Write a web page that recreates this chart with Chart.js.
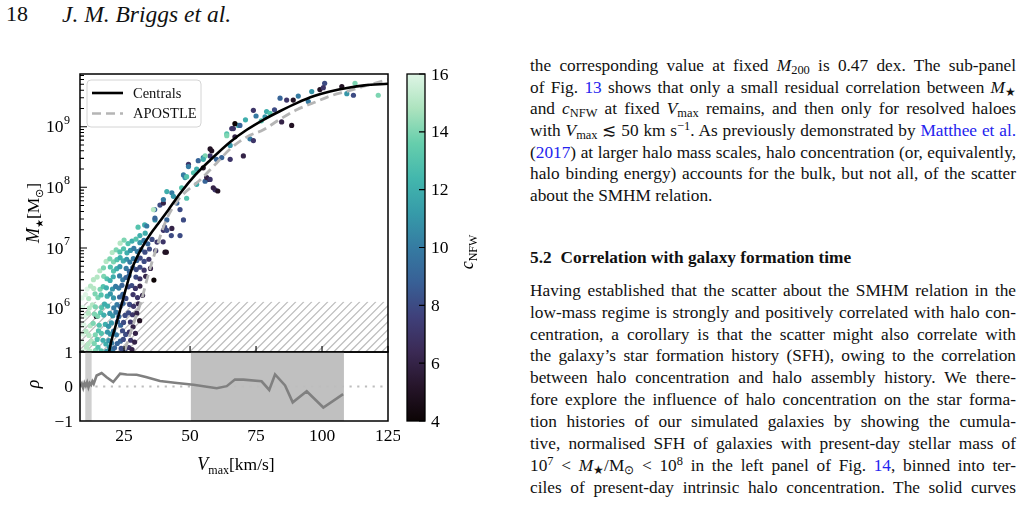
<!DOCTYPE html>
<html>
<head>
<meta charset="utf-8">
<title>Briggs et al. p.18</title>
<script src="https://cdn.jsdelivr.net/npm/chart.js@4.4.1/dist/chart.umd.min.js"></script>
<style>
    body { margin: 0; width: 1024px; height: 506px; overflow: hidden; position: relative; background: #fff;
           font-family: 'Liberation Serif', 'Times New Roman', serif; color: #111; }
    canvas { position: absolute; }
    .hdr { position: absolute; top: 1px; line-height: 26px; white-space: nowrap; }
    .col { position: absolute; left: 530px; top: 0; width: 486px; height: 506px; }
    .ln { position: absolute; left: 0; white-space: nowrap; font-size: 17.3px; line-height: 22px; }
    .ln sub { font-size: 0.72em; vertical-align: -0.28em; line-height: 0; }
    .ln sup { font-size: 0.72em; vertical-align: 0.5em; line-height: 0; }
    .ln a { color: #2323ee; text-decoration: none; }
    .ln.h { font-weight: bold; }
</style>
</head>
<body>
<div class="hdr" style="left:6px;font-size:22px">18</div>
<div class="hdr" style="left:62px;font-size:23.5px"><i>J. M. Briggs et al.</i></div>

<canvas id="main" width="400" height="300" style="left:0;top:60px"></canvas>
<canvas id="rho" width="400" height="161" style="left:0;top:345px"></canvas>
<canvas id="cbar" width="110" height="380" style="left:395px;top:60px"></canvas>

<div class="col">
<div class="ln j" style="top:54.9px">the corresponding value at fixed <i>M</i><sub>200</sub> is 0.47 dex. The sub-panel</div>
<div class="ln j" style="top:76.6px">of Fig. <a>13</a> shows that only a small residual correlation between <i>M</i><sub>★</sub></div>
<div class="ln j" style="top:98.2px">and <i>c</i><sub>NFW</sub> at fixed <i>V</i><sub>max</sub> remains, and then only for resolved haloes</div>
<div class="ln j" style="top:119.9px">with <i>V</i><sub>max</sub> ≲ 50 km s<sup>−1</sup>. As previously demonstrated by <a>Matthee et al.</a></div>
<div class="ln j" style="top:141.6px">(<a>2017</a>) at larger halo mass scales, halo concentration (or, equivalently,</div>
<div class="ln j" style="top:163.2px">halo binding energy) accounts for the bulk, but not all, of the scatter</div>
<div class="ln" style="top:184.9px">about the SMHM relation.</div>

<div class="ln h" style="top:246.5px"><span style="margin-right:9px">5.2</span>Correlation with galaxy formation time</div>

<div class="ln j" style="top:279.9px">Having established that the scatter about the SMHM relation in the</div>
<div class="ln j" style="top:301.7px">low-mass regime is strongly and positively correlated with halo con-</div>
<div class="ln j" style="top:323.6px">centration, a corollary is that the scatter might also correlate with</div>
<div class="ln j" style="top:345.4px">the galaxy’s star formation history (SFH), owing to the correlation</div>
<div class="ln j" style="top:367.3px">between halo concentration and halo assembly history. We there-</div>
<div class="ln j" style="top:389.1px">fore explore the influence of halo concentration on the star forma-</div>
<div class="ln j" style="top:410.9px">tion histories of our simulated galaxies by showing the cumula-</div>
<div class="ln j" style="top:432.8px">tive, normalised SFH of galaxies with present-day stellar mass of</div>
<div class="ln j" style="top:454.6px">10<sup>7</sup> &lt; <i>M</i><sub>★</sub>/M<sub>⊙</sub> &lt; 10<sup>8</sup> in the left panel of Fig. <a>14</a>, binned into ter-</div>
<div class="ln j" style="top:476.5px">ciles of present-day intrinsic halo concentration. The solid curves</div>
</div>

<script>
// ---- values ----
const VMAX_MIN = 8.3, VMAX_MAX = 125;
const MSTAR_MIN = 1.92e5, MSTAR_MAX = 7.4e9;
const vmaxTicks = [25, 50, 75, 100, 125];
const mstarTicks = [1e6, 1e7, 1e8, 1e9];
const mstarTickExp = ['6', '7', '8', '9'];
const rhoTicks = [-1, 0, 1];
const rhoTickLabels = ['\u22121', '0', '1'];
const CNFW_MIN = 4, CNFW_MAX = 16;
const cnfwTicks = [4, 6, 8, 10, 12, 14, 16];
const resolutionLimit = 1.3e6;   // top of the hatched region

// Centrals median relation
const centralsV = [19.3, 20.2, 21.8, 23.4, 25.5, 27.8, 30, 32, 35, 37.9, 41.7, 46.2, 52, 57.6, 65.2, 71.5, 77.8, 84, 90.4, 97, 103, 110, 116, 125];
const centralsM = [1.9e5, 2.95e5, 5.2e5, 9.1e5, 2.0e6, 4.3e6, 7.2e6, 1.05e7, 1.7e7, 2.5e7, 4.2e7, 7.9e7, 1.6e8, 2.8e8, 5.6e8, 8.9e8, 1.3e9, 1.8e9, 2.45e9, 3.2e9, 3.8e9, 4.4e9, 4.8e9, 5.1e9];

// APOSTLE relation
const apostleV = [25.3, 28.5, 31.6, 34, 36.6, 41, 46, 53.8, 60, 65.2, 71.5, 77.8, 84, 90.4, 97, 103, 110, 115.6, 125];
const apostleM = [2.05e5, 5.5e5, 1.38e6, 3.4e6, 8.1e6, 2.9e7, 6.6e7, 1.32e8, 2.5e8, 4.3e8, 6.8e8, 8.9e8, 1.32e9, 1.9e9, 2.5e9, 3.2e9, 3.9e9, 4.6e9, 6.0e9];

// individual galaxies: [Vmax, M*, cNFW]
const galaxies = [
    // low-mass wedge
    [9.6, 2.0e5, 16], [10.8, 2.3e5, 15], [12.1, 1.98e5, 15], [14.2, 2.05e5, 14], [15.1, 2.3e5, 13], [16.3, 2.0e5, 13], [18.4, 1.97e5, 11],
    [19.5, 2.3e5, 11], [20.6, 2.05e5, 10], [21.4, 2.25e5, 9], [23.9, 2.2e5, 8], [25.2, 2.02e5, 8], [26.8, 2.28e5, 7], [28, 2.1e5, 6],
    [9.1, 2.7e5, 16], [11.4, 2.6e5, 15], [12.6, 2.9e5, 15], [13.7, 2.65e5, 14], [14.8, 3.1e5, 13], [17, 3.0e5, 12], [18.1, 2.6e5, 12],
    [19.2, 2.95e5, 11], [20.3, 2.7e5, 10], [22.4, 2.65e5, 9], [23.6, 2.9e5, 9], [24.7, 3.1e5, 8], [27.5, 3.0e5, 7], [29, 2.8e5, 6],
    [9.4, 3.8e5, 16], [10.6, 4.2e5, 15], [11.7, 3.6e5, 15], [14.1, 3.7e5, 14], [15.3, 4.3e5, 13], [16.4, 3.9e5, 13], [18.7, 4.1e5, 11],
    [19.8, 3.8e5, 11], [21.0, 4.25e5, 10], [22.1, 3.7e5, 10], [24.4, 4.3e5, 8], [25.6, 3.75e5, 8], [27, 4.1e5, 7], [29.3, 3.9e5, 6],
    [9.8, 5.4e5, 16], [12.2, 5.2e5, 15], [13.3, 5.7e5, 14], [14.5, 7.4e5, 5], [15.6, 5.3e5, 13], [17.9, 5.5e5, 12], [19.1, 5.1e5, 11],
    [20.2, 5.8e5, 11], [22.5, 6.1e5, 9], [23.7, 5.3e5, 9], [24.8, 5.9e5, 8], [27.4, 6.0e5, 7], [28.4, 5.0e5, 6], [30.9, 6.3e5, 5],
    [10.3, 7.6e5, 16], [11.5, 8.4e5, 15], [13.8, 8.1e5, 14], [15, 7.5e5, 14], [16.1, 8.6e5, 13], [17.3, 7.8e5, 12], [19.6, 8.3e5, 11],
    [20.7, 7.6e5, 11], [21.9, 8.7e5, 10], [23, 7.4e5, 9], [25.4, 7.7e5, 8], [26.7, 8.5e5, 8], [28.2, 7.9e5, 7], [29.8, 8.4e5, 6],
    [9.3, 1.05e6, 16], [11.8, 1.02e6, 15], [13, 1.15e6, 15], [14.1, 1.07e6, 14], [16.5, 1.04e6, 13], [17.6, 1.18e6, 12], [18.8, 1.1e6, 12],
    [21.1, 1.03e6, 10], [22.3, 1.16e6, 10], [23.5, 1.08e6, 9], [24.6, 1.22e6, 9], [27.1, 1.17e6, 8], [28.6, 1.09e6, 7], [30.4, 1.2e6, 6],
    [9.0, 1.5e6, 16], [10.4, 1.7e6, 16], [11.6, 1.46e6, 15], [14, 1.75e6, 14], [15.1, 1.52e6, 14], [16.3, 1.68e6, 13], [18.6, 1.6e6, 12],
    [19.8, 1.74e6, 11], [21, 1.5e6, 11], [23.3, 1.55e6, 9], [24.5, 1.72e6, 9], [25.7, 1.47e6, 8], [28.4, 1.7e6, 7], [30.1, 1.52e6, 7], [32, 1.65e6, 6],
    [11, 2.1e6, 16], [12.3, 2.35e6, 15], [13.5, 2.15e6, 15], [15.9, 2.08e6, 14], [17.1, 2.3e6, 13], [18.3, 2.2e6, 12], [20.6, 2.1e6, 11],
    [21.8, 2.32e6, 10], [23, 2.18e6, 10], [24.2, 2.42e6, 9], [26.6, 2.28e6, 8], [27.9, 2.4e6, 8], [29.3, 2.15e6, 7], [31, 2.35e6, 6],
    [13.4, 3.0e6, 15], [14.8, 3.3e6, 15], [17.3, 3.4e6, 14], [18.5, 3.1e6, 13], [19.7, 2.9e6, 12], [20.9, 3.35e6, 12], [23.3, 3.45e6, 10],
    [24.5, 2.98e6, 10], [25.7, 3.25e6, 9], [26.9, 3.5e6, 9], [29.5, 3.3e6, 8], [31, 3.1e6, 7], [33.2, 3.4e6, 6], [36.3, 2.95e6, 4],
    [15.8, 4.2e6, 15], [17.2, 4.7e6, 14], [19.8, 4.85e6, 13], [21, 4.15e6, 13], [22.2, 4.55e6, 12], [23.4, 4.9e6, 11],
    [25.8, 4.6e6, 10], [27, 4.1e6, 9], [28.3, 4.75e6, 9], [29.6, 4.4e6, 8], [31, 4.8e6, 8], [32.6, 4.3e6, 7], [35, 4.6e6, 6],
    [18.2, 6.0e6, 15], [19.6, 6.6e6, 14], [21, 5.9e6, 14], [22.3, 6.4e6, 13], [23.5, 6.9e6, 12], [24.7, 6.1e6, 12], [26, 6.5e6, 11],
    [27.2, 5.85e6, 10], [28.5, 6.7e6, 10], [29.8, 6.2e6, 9], [31.1, 6.8e6, 8], [32.6, 6.0e6, 8], [34.4, 6.5e6, 7],
    [20.5, 8.4e6, 15], [22, 9.3e6, 14], [23.4, 8.6e6, 13], [24.8, 9.7e6, 13], [26.1, 8.3e6, 12], [27.4, 9.1e6, 11], [28.7, 9.8e6, 10],
    [30, 8.7e6, 10], [31.4, 9.4e6, 9], [32.9, 8.5e6, 8], [34.6, 9.6e6, 8], [37, 9.0e6, 7], [41, 8.5e6, 5],
    [23.5, 1.2e7, 15], [25, 1.35e7, 14], [26.5, 1.18e7, 13], [28, 1.3e7, 12], [29.5, 1.4e7, 13], [31, 1.22e7, 11], [32.5, 1.33e7, 10], [34, 1.17e7, 9], [35.6, 1.38e7, 8], [37.5, 1.25e7, 7],
    // along the relation, 1e7 to 1e8
    [30.3, 2.2e7, 13], [32.8, 2.4e7, 12], [36.6, 4.3e7, 9], [40.4, 2.2e7, 8], [42.9, 1.6e7, 8], [39.8, 1.26e7, 7],
    [43.1, 8.1e7, 10], [41.2, 8.5e7, 12], [45, 5.5e7, 9], [48.7, 6.6e7, 13], [38.6, 5.1e7, 8], [36.1, 4.3e7, 15], [46.2, 4.3e7, 8], [47.5, 2.9e7, 8], [41.2, 2.9e7, 9], [36.7, 2.9e7, 11],
    [39.9, 1.95e7, 7], [46.2, 1.6e7, 8], [33, 1.75e7, 12], [43.1, 2.1e7, 6], [31, 1.6e7, 12], [33.6, 2.3e7, 10], [36.7, 3.1e7, 9], [39.9, 5.5e7, 6], [41.2, 1.95e7, 8], [40.5, 8.5e6, 5],
    // 1e8 to 1e9
    [68.3, 1.05e9, 12], [63.9, 7.6e8, 13], [65.8, 9.3e8, 7], [67, 6.8e8, 6], [58.2, 4.0e8, 5], [57.6, 3.3e8, 7], [55, 3.1e8, 10], [53.1, 2.75e8, 9], [49.4, 2.4e8, 7], [51.3, 1.74e8, 13],
    [48.1, 1.45e8, 11], [47.5, 1.6e8, 10], [56.9, 1.35e8, 5], [59.5, 9.1e7, 7], [55.7, 1.26e8, 9], [52.5, 1.12e8, 12],
    [66.4, 9.3e8, 7], [67, 1.12e9, 4], [63.9, 7.1e8, 14], [68.9, 1.05e9, 9], [72.7, 6.3e8, 10], [74, 5.9e8, 7], [70.2, 3.3e8, 6], [65.2, 2.9e8, 7], [60.5, 8.7e7, 5],
    [56.3, 1.45e8, 6], [57.6, 1.35e8, 7], [55.7, 3.3e8, 14], [55, 2.9e8, 12], [57.6, 4.3e8, 5], [62, 3.1e8, 9], [65.2, 4.9e8, 11],
    [52.5, 2.0e8, 12], [48.7, 1.5e8, 13], [43.7, 7.1e7, 11], [39.9, 6.3e7, 10], [46.8, 9.8e7, 13], [58.8, 9.8e7, 6], [55, 2.1e8, 5], [60, 2.9e8, 9], [49.4, 2.2e8, 10],
    // above 1e9
    [101, 5.2e9, 8], [99.2, 4.1e9, 5], [100.5, 4.4e9, 7], [96.1, 3.8e9, 11], [107.5, 4.6e9, 5], [112.5, 5.2e9, 14], [109.4, 3.5e9, 11], [111.9, 3.3e9, 8], [121.3, 3.3e9, 14],
    [84.1, 2.95e9, 9], [86.6, 2.75e9, 7], [89.1, 2.75e9, 5], [91, 3.2e9, 10], [94.8, 2.6e9, 10], [74, 1.86e9, 7], [79, 1.78e9, 12], [80.3, 1.66e9, 13], [78.4, 1.45e9, 11], [84.7, 1.2e9, 6],
    [88.5, 1.05e9, 5], [71, 1.3e9, 12], [75, 1.5e9, 10], [82, 1.9e9, 8], [77, 1.25e9, 13]
];

// lower panel: correlation coefficient rho vs Vmax
const rhoV = [8.5, 9, 9.5, 10, 10.5, 11, 11.5, 12, 12.5, 13, 13.5, 14.6, 16.5, 18.4, 20.9, 23.5, 26, 29.8, 33.6, 38.6, 45, 51.3, 60.1, 63.9, 67, 70.2, 77.1, 80, 82.2, 86, 88.9, 94.2, 100.5, 108];
const rho = [0, 0.08, -0.04, 0.1, 0.02, 0.12, -0.02, 0.1, 0.05, 0.15, 0.08, 0.32, 0.39, 0.27, 0.13, 0.37, 0.35, 0.34, 0.27, 0.16, 0.10, 0.05, -0.05, 0.01, 0.20, 0.20, 0.15, -0.10, 0.35, 0.03, -0.46, -0.14, -0.61, -0.22];
// shaded Vmax ranges in the lower panel
const bandFrom = [10.3, 50.3];
const bandTo = [12.7, 108.3];

// ---- styling ----
const SERIF = "'Liberation Serif', 'Times New Roman', serif";
const bandColors = ['#cfcfcf', '#c0c0c0'];
const makoStops = [
    [0.0, '#0c0405'], [0.1, '#26152a'], [0.2, '#3b2a55'], [0.3, '#3f407a'], [0.4, '#386096'],
    [0.5, '#357ba2'], [0.6, '#369ba9'], [0.7, '#43b7ad'], [0.8, '#66ceac'], [0.9, '#ace3be'], [1.0, '#def5e5']
];

function hexRgb(h) {
    return [1, 3, 5].map(i => parseInt(h.slice(i, i + 2), 16));
}

function mako(c) {
    const t = Math.min(1, Math.max(0, (c - CNFW_MIN) / (CNFW_MAX - CNFW_MIN)));
    for (let i = 1; i < makoStops.length; i++) {
        if (t <= makoStops[i][0]) {
            const [t0, c0] = makoStops[i - 1];
            const [t1, c1] = makoStops[i];
            const f = (t - t0) / (t1 - t0);
            const a = hexRgb(c0), b = hexRgb(c1);
            return `rgb(${a.map((v, k) => Math.round(v + (b[k] - v) * f)).join(',')})`;
        }
    }
    return makoStops[makoStops.length - 1][1];
}

// draw a run of text pieces (font / vertical offset each), centred on x
function drawParts(ctx, parts, x, y) {
    let total = 0;
    parts.forEach(p => { ctx.font = p.font; total += ctx.measureText(p.t).width; });
    let cx = x - total / 2;
    ctx.textAlign = 'left';
    ctx.textBaseline = 'alphabetic';
    parts.forEach(p => {
        ctx.font = p.font;
        ctx.fillText(p.t, cx, y + (p.dy || 0));
        cx += ctx.measureText(p.t).width;
    });
}

function rotated(ctx, x, y, fn) {
    ctx.save();
    ctx.translate(x, y);
    ctx.rotate(-Math.PI / 2);
    fn();
    ctx.restore();
}

const big = `17.5px ${SERIF}`;
const bigIt = `italic 18px ${SERIF}`;
const small = `12px ${SERIF}`;

// ---- upper panel ----
const topPanel = {
    id: 'topPanel',
    beforeDatasetsDraw(chart) {
        const { ctx, chartArea: a, scales: { y } } = chart;
        const yH = y.getPixelForValue(resolutionLimit);
        ctx.save();
        ctx.beginPath();
        ctx.rect(a.left, yH, a.right - a.left, a.bottom - yH);
        ctx.clip();
        ctx.beginPath();
        ctx.strokeStyle = '#bdbdbd';
        ctx.lineWidth = 1.3;
        const h = a.bottom - yH;
        for (let x0 = a.left - h; x0 < a.right + 8; x0 += 8) {
            ctx.moveTo(x0, a.bottom);
            ctx.lineTo(x0 + h, yH);
        }
        ctx.stroke();
        ctx.restore();
    },
    afterDraw(chart) {
        const { ctx, chartArea: a, scales: { x, y } } = chart;
        ctx.save();
        ctx.strokeStyle = '#000';
        ctx.lineWidth = 1.5;
        ctx.strokeRect(a.left, a.top, a.right - a.left, a.bottom - a.top);

        // inward ticks
        ctx.lineWidth = 1.1;
        ctx.beginPath();
        vmaxTicks.forEach(v => {
            const px = x.getPixelForValue(v);
            ctx.moveTo(px, a.bottom); ctx.lineTo(px, a.bottom - 6);
        });
        for (let e = 5; e <= 9; e++) {
            for (let k = 1; k <= 9; k++) {
                const v = k * Math.pow(10, e);
                if (v < MSTAR_MIN || v > MSTAR_MAX) continue;
                const py = y.getPixelForValue(v);
                ctx.moveTo(a.left, py); ctx.lineTo(a.left + (k === 1 ? 7 : 4), py);
            }
        }
        ctx.stroke();

        // y tick labels 10^n
        ctx.fillStyle = '#000';
        mstarTicks.forEach((v, i) => {
            const py = y.getPixelForValue(v);
            ctx.font = big;
            ctx.textAlign = 'right';
            ctx.textBaseline = 'middle';
            ctx.fillText('10', 63.5, py + 1);
            ctx.font = small;
            ctx.textAlign = 'left';
            ctx.fillText(mstarTickExp[i], 64, py - 6);
        });

        // y title  M★ [M⊙]
        rotated(ctx, 33, 153, () => {
            drawParts(ctx, [
                { t: 'M', font: bigIt },
                { t: '★', font: `10px ${SERIF}`, dy: 4 },
                { t: '[M', font: big },
                { t: '⊙', font: `11px ${SERIF}`, dy: 4 },
                { t: ']', font: big }
            ], 0, 6);
        });

        // legend
        const lx = a.left + 7, ly = a.top + 6, lw = 114, lh = 47;
        ctx.beginPath();
        ctx.roundRect(lx, ly, lw, lh, 4);
        ctx.fillStyle = 'rgba(255,255,255,0.85)';
        ctx.fill();
        ctx.strokeStyle = '#d4d4d4';
        ctx.lineWidth = 1;
        ctx.stroke();
        const entries = [
            { label: 'Centrals', color: '#000', dash: [] },
            { label: 'APOSTLE', color: '#b5b5b5', dash: [9, 5] }
        ];
        entries.forEach((en, i) => {
            const ey = ly + 13 + i * 20.5;
            ctx.beginPath();
            ctx.setLineDash(en.dash);
            ctx.strokeStyle = en.color;
            ctx.lineWidth = 2.6;
            ctx.moveTo(lx + 5, ey); ctx.lineTo(lx + 36, ey);
            ctx.stroke();
            ctx.setLineDash([]);
            ctx.fillStyle = '#111';
            ctx.font = `14.5px ${SERIF}`;
            ctx.textAlign = 'left';
            ctx.textBaseline = 'middle';
            ctx.fillText(en.label, lx + 46, ey + 1);
        });
        ctx.restore();
    }
};

new Chart(document.getElementById('main'), {
    type: 'scatter',
    data: {
        datasets: [
            {
                label: 'Centrals',
                data: centralsV.map((v, i) => ({ x: v, y: centralsM[i] })),
                showLine: true,
                borderColor: '#000',
                borderWidth: 2.6,
                pointRadius: 0,
                cubicInterpolationMode: 'monotone',
                order: 1
            },
            {
                label: 'APOSTLE',
                data: apostleV.map((v, i) => ({ x: v, y: apostleM[i] })),
                showLine: true,
                borderColor: '#b5b5b5',
                borderWidth: 2.8,
                borderDash: [9, 5],
                pointRadius: 0,
                cubicInterpolationMode: 'monotone',
                order: 2
            },
            {
                label: 'galaxies',
                data: galaxies.map(g => ({ x: g[0], y: g[1] })),
                pointRadius: 2.6,
                pointBorderWidth: 0,
                pointBackgroundColor: galaxies.map(g => mako(g[2])),
                pointBorderColor: galaxies.map(g => mako(g[2])),
                order: 3
            }
        ]
    },
    options: {
        responsive: false,
        animation: false,
        devicePixelRatio: 1,
        layout: { padding: { left: 80, right: 12, top: 14, bottom: 8 } },
        plugins: { legend: { display: false }, tooltip: { enabled: false } },
        scales: {
            x: { type: 'linear', min: VMAX_MIN, max: VMAX_MAX, display: false },
            y: { type: 'logarithmic', min: MSTAR_MIN, max: MSTAR_MAX, display: false }
        }
    },
    plugins: [topPanel]
});

// ---- lower panel ----
const rhoPanel = {
    id: 'rhoPanel',
    beforeDatasetsDraw(chart) {
        const { ctx, chartArea: a, scales: { x, y } } = chart;
        ctx.save();
        bandFrom.forEach((v0, i) => {
            const x0 = Math.max(a.left, x.getPixelForValue(v0));
            const x1 = Math.min(a.right, x.getPixelForValue(bandTo[i]));
            ctx.fillStyle = bandColors[i];
            ctx.fillRect(x0, a.top, x1 - x0, a.bottom - a.top);
        });
        const y0 = y.getPixelForValue(0);
        ctx.beginPath();
        ctx.setLineDash([2.2, 5.5]);
        ctx.strokeStyle = '#bdbdbd';
        ctx.lineWidth = 2.2;
        ctx.moveTo(a.left, y0); ctx.lineTo(a.right, y0);
        ctx.stroke();
        ctx.restore();
    },
    afterDraw(chart) {
        const { ctx, chartArea: a, scales: { x, y } } = chart;
        ctx.save();
        ctx.strokeStyle = '#000';
        ctx.lineWidth = 1.5;
        ctx.strokeRect(a.left, a.top, a.right - a.left, a.bottom - a.top);

        ctx.fillStyle = '#000';
        ctx.font = big;
        ctx.textBaseline = 'middle';
        ctx.textAlign = 'right';
        rhoTicks.forEach((v, i) => ctx.fillText(rhoTickLabels[i], 73, y.getPixelForValue(v) + 1));
        ctx.textAlign = 'center';
        vmaxTicks.forEach(v => ctx.fillText(String(v), x.getPixelForValue(v), 91));

        // x title  V_max [km/s]
        drawParts(ctx, [
            { t: 'V', font: bigIt },
            { t: 'max', font: small, dy: 4 },
            { t: '[km/s]', font: big }
        ], 236, 125);

        // y title  rho
        rotated(ctx, 35, 39, () => {
            drawParts(ctx, [{ t: 'ρ', font: bigIt }], 0, 4);
        });
        ctx.restore();
    }
};

new Chart(document.getElementById('rho'), {
    type: 'scatter',
    data: {
        datasets: [{
            label: 'rho',
            data: rhoV.map((v, i) => ({ x: v, y: rho[i] })),
            showLine: true,
            borderColor: '#808080',
            borderWidth: 2.6,
            pointRadius: 0
        }]
    },
    options: {
        responsive: false,
        animation: false,
        devicePixelRatio: 1,
        layout: { padding: { left: 80, right: 12, top: 7, bottom: 85 } },
        plugins: { legend: { display: false }, tooltip: { enabled: false } },
        scales: {
            x: { type: 'linear', min: VMAX_MIN, max: VMAX_MAX, display: false },
            y: { type: 'linear', min: -1, max: 1, display: false }
        }
    },
    plugins: [rhoPanel]
});

// ---- colour bar ----
const cbarPanel = {
    id: 'cbarPanel',
    afterDraw(chart) {
        const { ctx, chartArea: a, scales: { y } } = chart;
        ctx.save();
        ctx.strokeStyle = '#000';
        ctx.lineWidth = 1.3;
        ctx.strokeRect(a.left, a.top, a.right - a.left, a.bottom - a.top);
        ctx.lineWidth = 1.1;
        ctx.beginPath();
        cnfwTicks.forEach(v => {
            const py = y.getPixelForValue(v);
            ctx.moveTo(a.right, py); ctx.lineTo(a.right - 6, py);
        });
        ctx.stroke();
        ctx.fillStyle = '#000';
        ctx.font = big;
        ctx.textAlign = 'left';
        ctx.textBaseline = 'middle';
        cnfwTicks.forEach(v => ctx.fillText(String(v), a.right + 6, y.getPixelForValue(v) + 1));
        rotated(ctx, 74, 192, () => {
            drawParts(ctx, [
                { t: 'c', font: bigIt },
                { t: 'NFW', font: small, dy: 4 }
            ], 0, 4);
        });
        ctx.restore();
    }
};

new Chart(document.getElementById('cbar'), {
    type: 'bar',
    data: {
        labels: [''],
        datasets: [{
            data: [[CNFW_MIN, CNFW_MAX]],
            barPercentage: 1,
            categoryPercentage: 1,
            borderWidth: 0,
            backgroundColor: (c) => {
                const area = c.chart.chartArea;
                if (!area) return '#000';
                const g = c.chart.ctx.createLinearGradient(0, area.bottom, 0, area.top);
                makoStops.forEach(s => g.addColorStop(s[0], s[1]));
                return g;
            }
        }]
    },
    options: {
        responsive: false,
        animation: false,
        devicePixelRatio: 1,
        layout: { padding: { left: 12, right: 80, top: 14, bottom: 19 } },
        plugins: { legend: { display: false }, tooltip: { enabled: false } },
        scales: {
            x: { display: false },
            y: { min: CNFW_MIN, max: CNFW_MAX, display: false }
        }
    },
    plugins: [cbarPanel]
});

// ---- justify the text column line by line ----
const COL_W = 486;
document.querySelectorAll('.ln.j').forEach(el => {
    el.style.wordSpacing = '0px';
    const w = el.getBoundingClientRect().width;
    const gaps = (el.textContent.match(/ /g) || []).length;
    if (gaps) el.style.wordSpacing = ((COL_W - w) / gaps) + 'px';
});
</script>
</body>
</html>
